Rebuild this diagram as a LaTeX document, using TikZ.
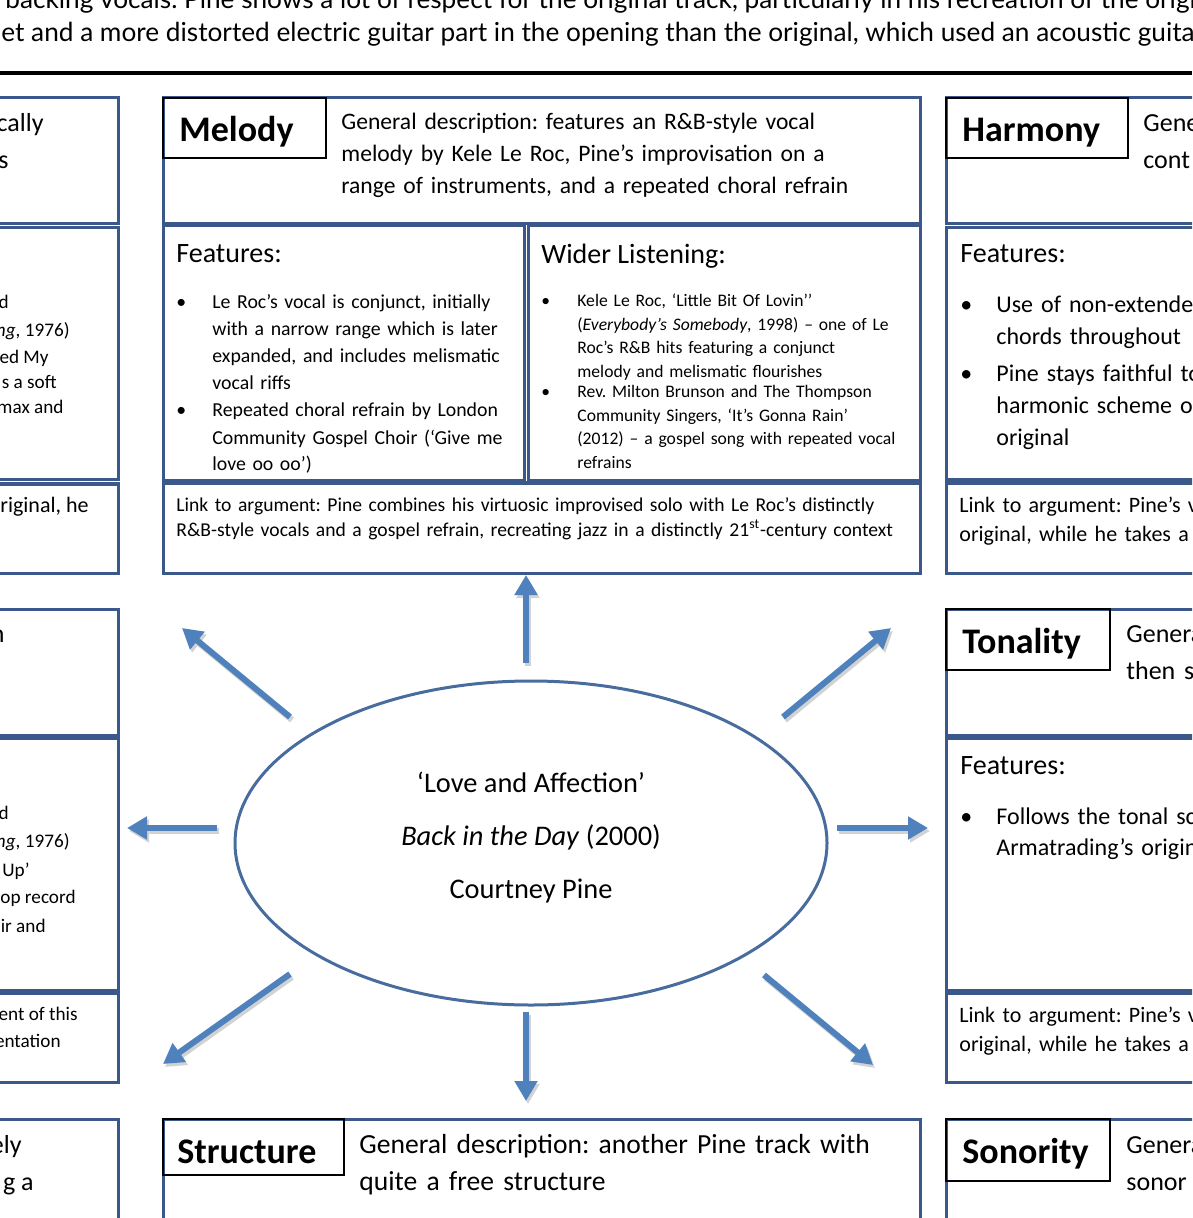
\documentclass[tikz,border=0pt]{standalone}
\usepackage{fontspec}
\setmainfont{Carlito}
\newfontfamily\gillfont{Lato}
\usetikzlibrary{arrows.meta, shapes.geometric}
\definecolor{boxblue}{RGB}{58,88,138}
\definecolor{arrowblue}{RGB}{79,129,189}
\definecolor{ringblue}{RGB}{72,108,158}
\newcommand{\fs}[2]{\fontsize{#1}{#2}\selectfont}
\frenchspacing

\begin{document}
\begin{tikzpicture}[x=0.5pt, y=-0.5pt,
	box/.style={draw=boxblue, line width=1.5pt},
	titlebox/.style={draw=black, line width=0.6pt},
	txt/.style={anchor=base west, inner sep=0pt, text width=420pt, align=left},
	cut/.style={anchor=base east, inner sep=0pt},
	dot/.style={anchor=base west, inner sep=0pt},
	title/.style={anchor=base west, inner sep=0pt, font=\fs{18}{22}\bfseries},
	head/.style={anchor=base west, inner sep=0pt, font=\fs{14}{17}},
	spoke/.style={arrowblue, line width=3pt, -{Triangle[width=11pt,length=10pt]}},
	shade/.style={gray!35, line width=3pt, -{Triangle[width=11pt,length=10pt]},
		transform canvas={shift={(1pt,-1.5pt)}}}]
	\useasboundingbox (0,0) rectangle (1192,1218);
	\clip (0,0) rectangle (1192,1218);

	% intro text and rule
	\node[anchor=base west, inner sep=0pt, font=\gillfont\fs{13.1}{17}] (intro1) at (5,9)
		{backing vocals. Pine shows a lot of respect for the original track, particularly in his recreation of the original};
	\node[anchor=base west, inner sep=0pt, font=\gillfont\fs{13.1}{17}] (intro2) at (1,42)
		{et and a more distorted electric guitar part in the opening than the original, which used an acoustic guitar};
	\draw[line width=2pt] (0,73) -- (1192,73);

	% Melody
	\draw[box] (163,98) rectangle (920,224);
	\draw[titlebox] (163,98) rectangle (326,158);
	\node[title] (mel-title) at (179,142) {Melody};
	\node[txt, font=\fs{11.8}{16}] (mel-desc) at (341,130) {General description: features an R\&B-style vocal\\melody by Kele Le Roc, Pine’s improvisation on a\\range of instruments, and a repeated choral refrain};

	\draw[box] (163,226) rectangle (524,481);
	\node[head] (mel-feat) at (176,263) {Features:};
	\node[dot, font=\fs{9.9}{13.5}] (mel-b1) at (176,309) {•};
	\node[txt, font=\fs{9.9}{13.5}] (mel-l1) at (212,309) {Le Roc’s vocal is conjunct, initially\\with a narrow range which is later\\expanded, and includes melismatic\\vocal riffs};
	\node[dot, font=\fs{9.9}{13.5}] (mel-b2) at (176,417) {•};
	\node[txt, font=\fs{9.9}{13.5}] (mel-l2) at (212,417) {Repeated choral refrain by London\\Community Gospel Choir (‘Give me\\love oo oo’)};

	\draw[box] (528,226) rectangle (920,481);
	\node[head] (mel-wide) at (541,264) {Wider Listening:};
	\node[dot, font=\fs{8.8}{11.7}] (mel-w1) at (541,307) {•};
	\node[txt, font=\fs{8.8}{11.7}] (mel-t1) at (577,307) {Kele Le Roc, ‘Little Bit Of Lovin’’\\(\textit{Everybody’s Somebody}, 1998) – one of Le\\Roc’s R\&B hits featuring a conjunct\\melody and melismatic flourishes};
	\node[dot, font=\fs{8.8}{11.7}] (mel-w2) at (541,398) {•};
	\node[txt, font=\fs{8.8}{11.7}] (mel-t2) at (577,398) {Rev. Milton Brunson and The Thompson\\Community Singers, ‘It’s Gonna Rain’\\(2012) – a gospel song with repeated vocal\\refrains};

	\draw[box] (163,483) rectangle (920,573);
	\node[txt, font=\fs{9.8}{12.5}] (mel-link) at (176,511) {Link to argument: Pine combines his virtuosic improvised solo with Le Roc’s distinctly\\R\&B-style vocals and a gospel refrain, recreating jazz in a distinctly 21\textsuperscript{st}-century context};

	% Harmony
	\draw[box] (946,98) rectangle (1200,224);
	\draw[titlebox] (946,98) rectangle (1128,158);
	\node[title] (har-title) at (962,142) {Harmony};
	\node[txt, font=\fs{13}{18.5}] (har-desc) at (1143,132) {General\\cont};
	\draw[box] (946,228) rectangle (1200,480);
	\node[head] (har-feat) at (960,263) {Features:};
	\node[dot, font=\fs{12}{16}] (har-b1) at (960,313) {•};
	\node[txt, font=\fs{12}{16}] (har-l1) at (996,313) {Use of non-extended\\chords throughout};
	\node[dot, font=\fs{12}{16}] (har-b2) at (960,382) {•};
	\node[txt, font=\fs{12}{16}] (har-l2) at (996,382) {Pine stays faithful to\\harmonic scheme of\\original};
	\draw[box] (946,483) rectangle (1200,573);
	\node[txt, font=\fs{11}{14.5}] (har-link) at (959,512) {Link to argument: Pine’s v\\original, while he takes a r};

	% Tonality
	\draw[box] (946,609) rectangle (1200,735);
	\draw[titlebox] (946,609) rectangle (1110,670);
	\node[title] (ton-title) at (962,653) {Tonality};
	\node[txt, font=\fs{13}{18.5}] (ton-desc) at (1126,642) {General\\then s};
	\draw[box] (946,738) rectangle (1200,990);
	\node[head] (ton-feat) at (960,774) {Features:};
	\node[dot, font=\fs{12}{15.5}] (ton-b1) at (960,824) {•};
	\node[txt, font=\fs{12}{15.5}] (ton-l1) at (996,824) {Follows the tonal scheme of\\Armatrading’s original};
	\draw[box] (946,993) rectangle (1200,1082);
	\node[txt, font=\fs{11}{14.5}] (ton-link) at (959,1022) {Link to argument: Pine’s v\\original, while he takes a r};

	% Sonority
	\draw[box] (946,1119) rectangle (1200,1230);
	\draw[titlebox] (946,1119) rectangle (1110,1181);
	\node[title] (son-title) at (962,1163) {Sonority};
	\node[txt, font=\fs{13}{18.5}] (son-desc) at (1126,1153) {General\\sonor};

	% Structure
	\draw[box] (163,1119) rectangle (920,1230);
	\draw[titlebox] (163,1119) rectangle (344,1175);
	\node[title] (str-title) at (177,1163) {Structure};
	\node[txt, font=\fs{13.8}{18.5}] (str-desc) at (359,1153) {General description: another Pine track with\\quite a free structure};

	% left column, cut by the page edge
	\draw[box] (-10,98) rectangle (118,224);
	\node[cut, font=\fs{13}{18.5}] (lt-d1) at (44,132) {cally};
	\node[cut, font=\fs{13}{18.5}] (lt-d2) at (9,169) {s};
	\draw[box] (-10,228) rectangle (118,480);
	\node[cut, font=\fs{9.6}{13}] (lt-f1) at (9,309) {d};
	\node[cut, font=\fs{9.6}{13}] (lt-f2) at (70,337) {\textit{ng}, 1976)};
	\node[cut, font=\fs{9.6}{13}] (lt-f3) at (49,364) {ed My};
	\node[cut, font=\fs{9.6}{13}] (lt-f4) at (57,389) {s a soft};
	\node[cut, font=\fs{9.6}{13}] (lt-f5) at (64,414) {max and};
	\draw[box] (-10,484) rectangle (118,573);
	\node[cut, font=\fs{11}{14.5}] (lt-k1) at (89,512) {riginal, he};

	\draw[box] (-10,609) rectangle (118,735);
	\node[cut, font=\fs{13}{18.5}] (lm-d1) at (5,642) {n};
	\draw[box] (-10,738) rectangle (118,990);
	\node[cut, font=\fs{9.6}{13}] (lm-f1) at (9,819) {d};
	\node[cut, font=\fs{9.6}{13}] (lm-f2) at (70,847) {\textit{ng}, 1976)};
	\node[cut, font=\fs{9.6}{13}] (lm-f3) at (30,876) {Up’};
	\node[cut, font=\fs{9.6}{13}] (lm-f4) at (76,903) {op record};
	\node[cut, font=\fs{9.6}{13}] (lm-f5) at (46,932) {ir and};
	\draw[box] (-10,993) rectangle (118,1082);
	\node[cut, font=\fs{9.6}{13}] (lm-k1) at (78,1020) {ent of this};
	\node[cut, font=\fs{9.6}{13}] (lm-k2) at (61,1047) {entation};

	\draw[box] (-10,1119) rectangle (118,1230);
	\node[cut, font=\fs{13}{18.5}] (lb-d1) at (22,1153) {ely};
	\node[cut, font=\fs{13}{18.5}] (lb-d2) at (34,1190) {g a};

	% centre
	\node[ellipse, draw=ringblue, line width=1.5pt, minimum width=296pt, minimum height=162pt,
		inner sep=0pt] (hub) at (531,843) {};
	\node[align=center, inner sep=0pt, font=\fs{14.2}{26.5}] (hub-text) at (531,838)
		{‘Love and Affection’\\\textit{Back in the Day} (2000)\\Courtney Pine};

	% spokes
	\foreach \nm/\ax/\ay/\bx/\by in {up/526/663/526/575, dn/526/1012/526/1101,
		lf/217/828/127/828, rt/837/828/928/828, ul/290/717/182/628,
		ur/783/717/891/628, ll/290/974/163/1064, lr/764/975/873/1065} {
		\coordinate (\nm-a) at (\ax,\ay);
		\coordinate (\nm-b) at (\bx,\by);
	}
	\foreach \nm in {up,dn,lf,rt,ul,ur,ll,lr} {
		\draw[shade] (\nm-a) -- (\nm-b);
		\draw[spoke] (\nm-a) -- (\nm-b);
	}
\end{tikzpicture}
\end{document}
